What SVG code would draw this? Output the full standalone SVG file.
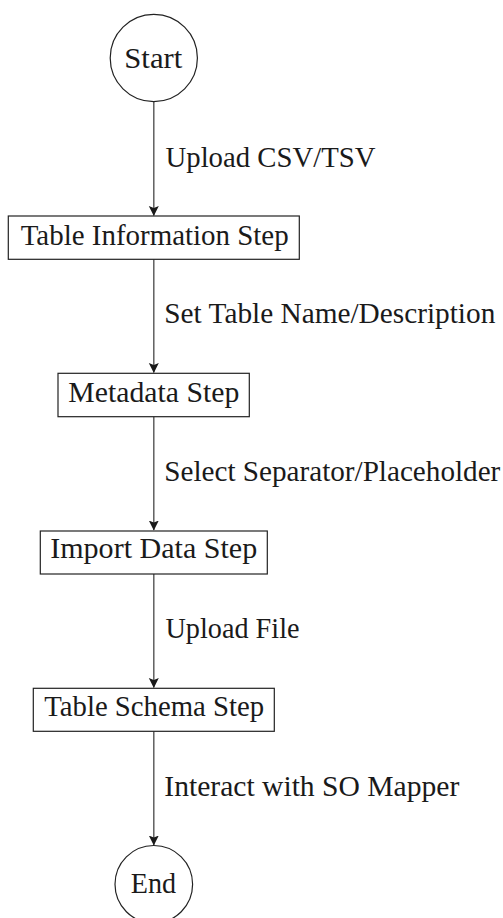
<svg xmlns="http://www.w3.org/2000/svg" width="503" height="918" viewBox="0 0 503 918">
  <style>
    .node { fill: #ffffff; stroke: #222222; stroke-width: 1.2; }
    .label { font-family: "Liberation Serif", "Times New Roman", serif; font-size: 29px; fill: #1a1a1a; }
    .ntext { text-anchor: middle; }
    .edge { stroke: #555555; stroke-width: 1.4; fill: none; marker-end: url(#arrow); }
  </style>
  <defs>
    <marker id="arrow" markerUnits="userSpaceOnUse" markerWidth="10" markerHeight="12" refX="9.5" refY="5" orient="auto" viewBox="0 0 10 10">
      <path d="M0,0 L10,5 L0,10 L2,5 Z" fill="#1a1a1a"/>
    </marker>
  </defs>

  <rect width="503" height="918" fill="#ffffff"/>

  <!-- connectors with their labels -->
  <g id="connectors">
    <line class="edge" x1="153.8" y1="101.8" x2="153.8" y2="215.5"/>
    <text class="label" x="165.5" y="166.5" textLength="210" lengthAdjust="spacingAndGlyphs">Upload CSV/TSV</text>

    <line class="edge" x1="153.8" y1="259.3" x2="153.8" y2="372.5"/>
    <text class="label" x="164.3" y="323.3" textLength="331" lengthAdjust="spacingAndGlyphs">Set Table Name/Description</text>

    <line class="edge" x1="153.8" y1="416.7" x2="153.8" y2="530"/>
    <text class="label" x="164.3" y="480.7" textLength="336" lengthAdjust="spacingAndGlyphs">Select Separator/Placeholder</text>

    <line class="edge" x1="153.8" y1="574" x2="153.8" y2="687.5"/>
    <text class="label" x="165.5" y="638.3" textLength="134" lengthAdjust="spacingAndGlyphs">Upload File</text>

    <line class="edge" x1="153.8" y1="731.3" x2="153.8" y2="845"/>
    <text class="label" x="164.3" y="795.7" textLength="295" lengthAdjust="spacingAndGlyphs">Interact with SO Mapper</text>
  </g>

  <g id="start">
    <circle class="node" cx="153.8" cy="58" r="43.6"/>
    <text class="label ntext" x="153.3" y="67.7" textLength="58" lengthAdjust="spacingAndGlyphs">Start</text>
  </g>

  <g id="table-information-step">
    <rect class="node" x="8.3" y="216" width="291" height="43.3"/>
    <text class="label ntext" x="154.7" y="245" textLength="268" lengthAdjust="spacingAndGlyphs">Table Information Step</text>
  </g>

  <g id="metadata-step">
    <rect class="node" x="58" y="373.3" width="191.3" height="43.4"/>
    <text class="label ntext" x="153.8" y="402.3" textLength="171" lengthAdjust="spacingAndGlyphs">Metadata Step</text>
  </g>

  <g id="import-data-step">
    <rect class="node" x="40.3" y="531" width="227" height="43"/>
    <text class="label ntext" x="153.7" y="558.3" textLength="207" lengthAdjust="spacingAndGlyphs">Import Data Step</text>
  </g>

  <g id="table-schema-step">
    <rect class="node" x="33.3" y="688.3" width="241" height="43"/>
    <text class="label ntext" x="154.2" y="716" textLength="220" lengthAdjust="spacingAndGlyphs">Table Schema Step</text>
  </g>

  <g id="end">
    <circle class="node" cx="153.8" cy="884.3" r="38.8"/>
    <text class="label ntext" x="153.4" y="893.3" textLength="45.3" lengthAdjust="spacingAndGlyphs">End</text>
  </g>
</svg>
